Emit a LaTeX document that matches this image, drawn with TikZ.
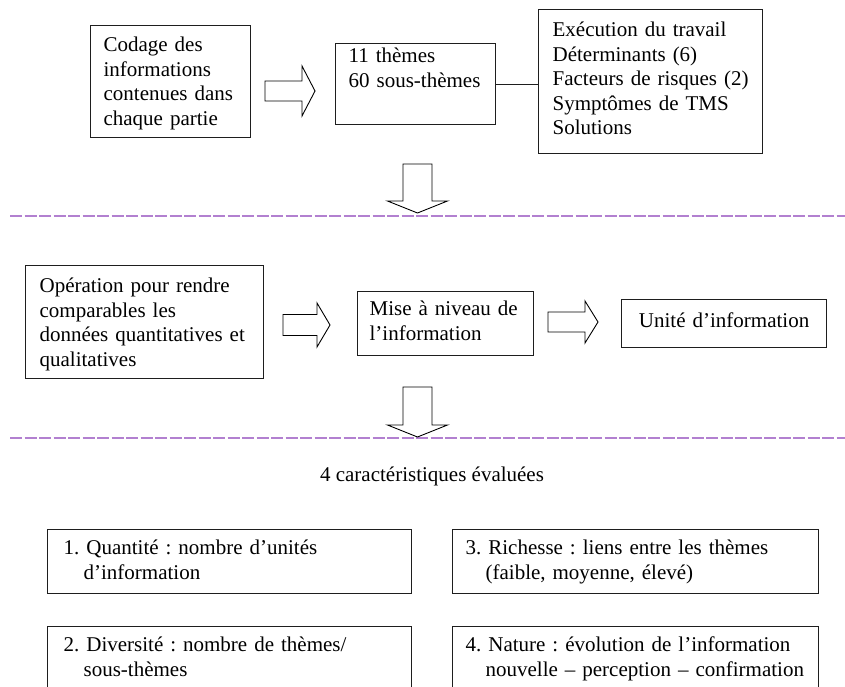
\documentclass[tikz,border=0pt]{standalone}
\usepackage{fontspec}
\setmainfont{Liberation Serif}
\AtBeginDocument{\frenchspacing}
\definecolor{lav}{RGB}{178,128,208}
\definecolor{edge}{RGB}{30,30,30}
\tikzset{
  bx/.style={draw=edge, line width=1.2pt, anchor=north west, align=left,
     inner xsep=13pt, inner ysep=0pt, font=\fontsize{21}{24.5}\selectfont\frenchspacing},
  blk/.style={draw=black, line width=0.9pt, fill=white, line join=miter},
  sep/.style={draw=lav, line width=2.6pt, dash pattern=on 12pt off 2.5pt},
}
\newcommand\blockR[5]{% x1, xtip, yc, shaft half, head half
  \draw[blk] (#1,#3-#4) -- (#2-13,#3-#4) -- (#2-13,#3-#5) -- (#2,#3)
    -- (#2-13,#3+#5) -- (#2-13,#3+#4) -- (#1,#3+#4) -- cycle;}
\newcommand\blockD[3]{% xc, ytop, ytip
  \draw[blk] (#1-14.5,#2) -- (#1+14.5,#2) -- (#1+14.5,#3-12) -- (#1+30,#3-12)
    -- (#1,#3) -- (#1-30,#3-12) -- (#1-14.5,#3-12) -- cycle;}
\begin{document}
\begin{tikzpicture}[x=1pt,y=-1pt]
\clip (0,0) rectangle (845,687);
\fill[white] (0,0) rectangle (845,687);

% row 1
\node[bx, text width=134pt, text height=26pt, text depth=86pt] (b1) at (90,25)
  {Codage des\\informations\\contenues dans\\chaque partie};
\node[bx, text width=134pt, text height=19pt, text depth=62pt] (b2) at (335,43)
  {11 thèmes\\60 sous-thèmes};
\node[bx, inner xsep=14pt, text width=196pt, text height=27pt, text depth=117pt] (b3) at (538,9)
  {Exécution du travail\\Déterminants (6)\\Facteurs de risques (2)\\Symptômes de TMS\\Solutions};
\draw[edge, line width=1.1pt] (b2.east) -- (b2.east -| b3.west);
\blockR{265}{315}{91}{10}{25}

% separator 1
\draw[sep] (10,216) -- (845,216);
\blockD{417.5}{164}{213}

% row 2
\node[bx, inner xsep=14pt, text width=210pt, text height=27pt, text depth=86pt] (b4) at (25,265)
  {Opération pour rendre\\comparables les\\données quantitatives et\\qualitatives};
\node[bx, inner xsep=12pt, text width=152pt, text height=24pt, text depth=40pt] (b5) at (357,291)
  {Mise à niveau de\\l’information};
\node[bx, align=center, inner xsep=10pt, text width=185pt, text height=28pt, text depth=20pt] (b6) at (621,299)
  {Unité d’information};
\blockR{283}{330}{325}{10.5}{22}
\blockR{548}{598}{322}{10}{21}

% separator 2
\draw[sep] (10,438) -- (845,438);
\blockD{417.5}{387}{437}

% row 3
\node[font=\fontsize{21}{24.5}\selectfont, anchor=base, inner sep=0pt] (t) at (432,481)
  {4 caractéristiques évaluées};
\node[bx, inner xsep=16pt, text width=332pt, text height=25pt, text depth=39pt] (q1) at (47,529)
  {1. Quantité : nombre d’unités\\\hspace*{20pt}d’information};
\node[bx, text width=340pt, text height=25pt, text depth=39pt] (q3) at (452,529)
  {3. Richesse : liens entre les thèmes\\\hspace*{20pt}(faible, moyenne, élevé)};
\node[bx, inner xsep=16pt, text width=332pt, text height=25pt, text depth=80pt] (q2) at (47,626)
  {2. Diversité : nombre de thèmes/\\\hspace*{20pt}sous-thèmes};
\node[bx, text width=340pt, text height=25pt, text depth=80pt] (q4) at (452,626)
  {4. Nature : évolution de l’information\\\hspace*{20pt}nouvelle – perception – confirmation};
\end{tikzpicture}
\end{document}
